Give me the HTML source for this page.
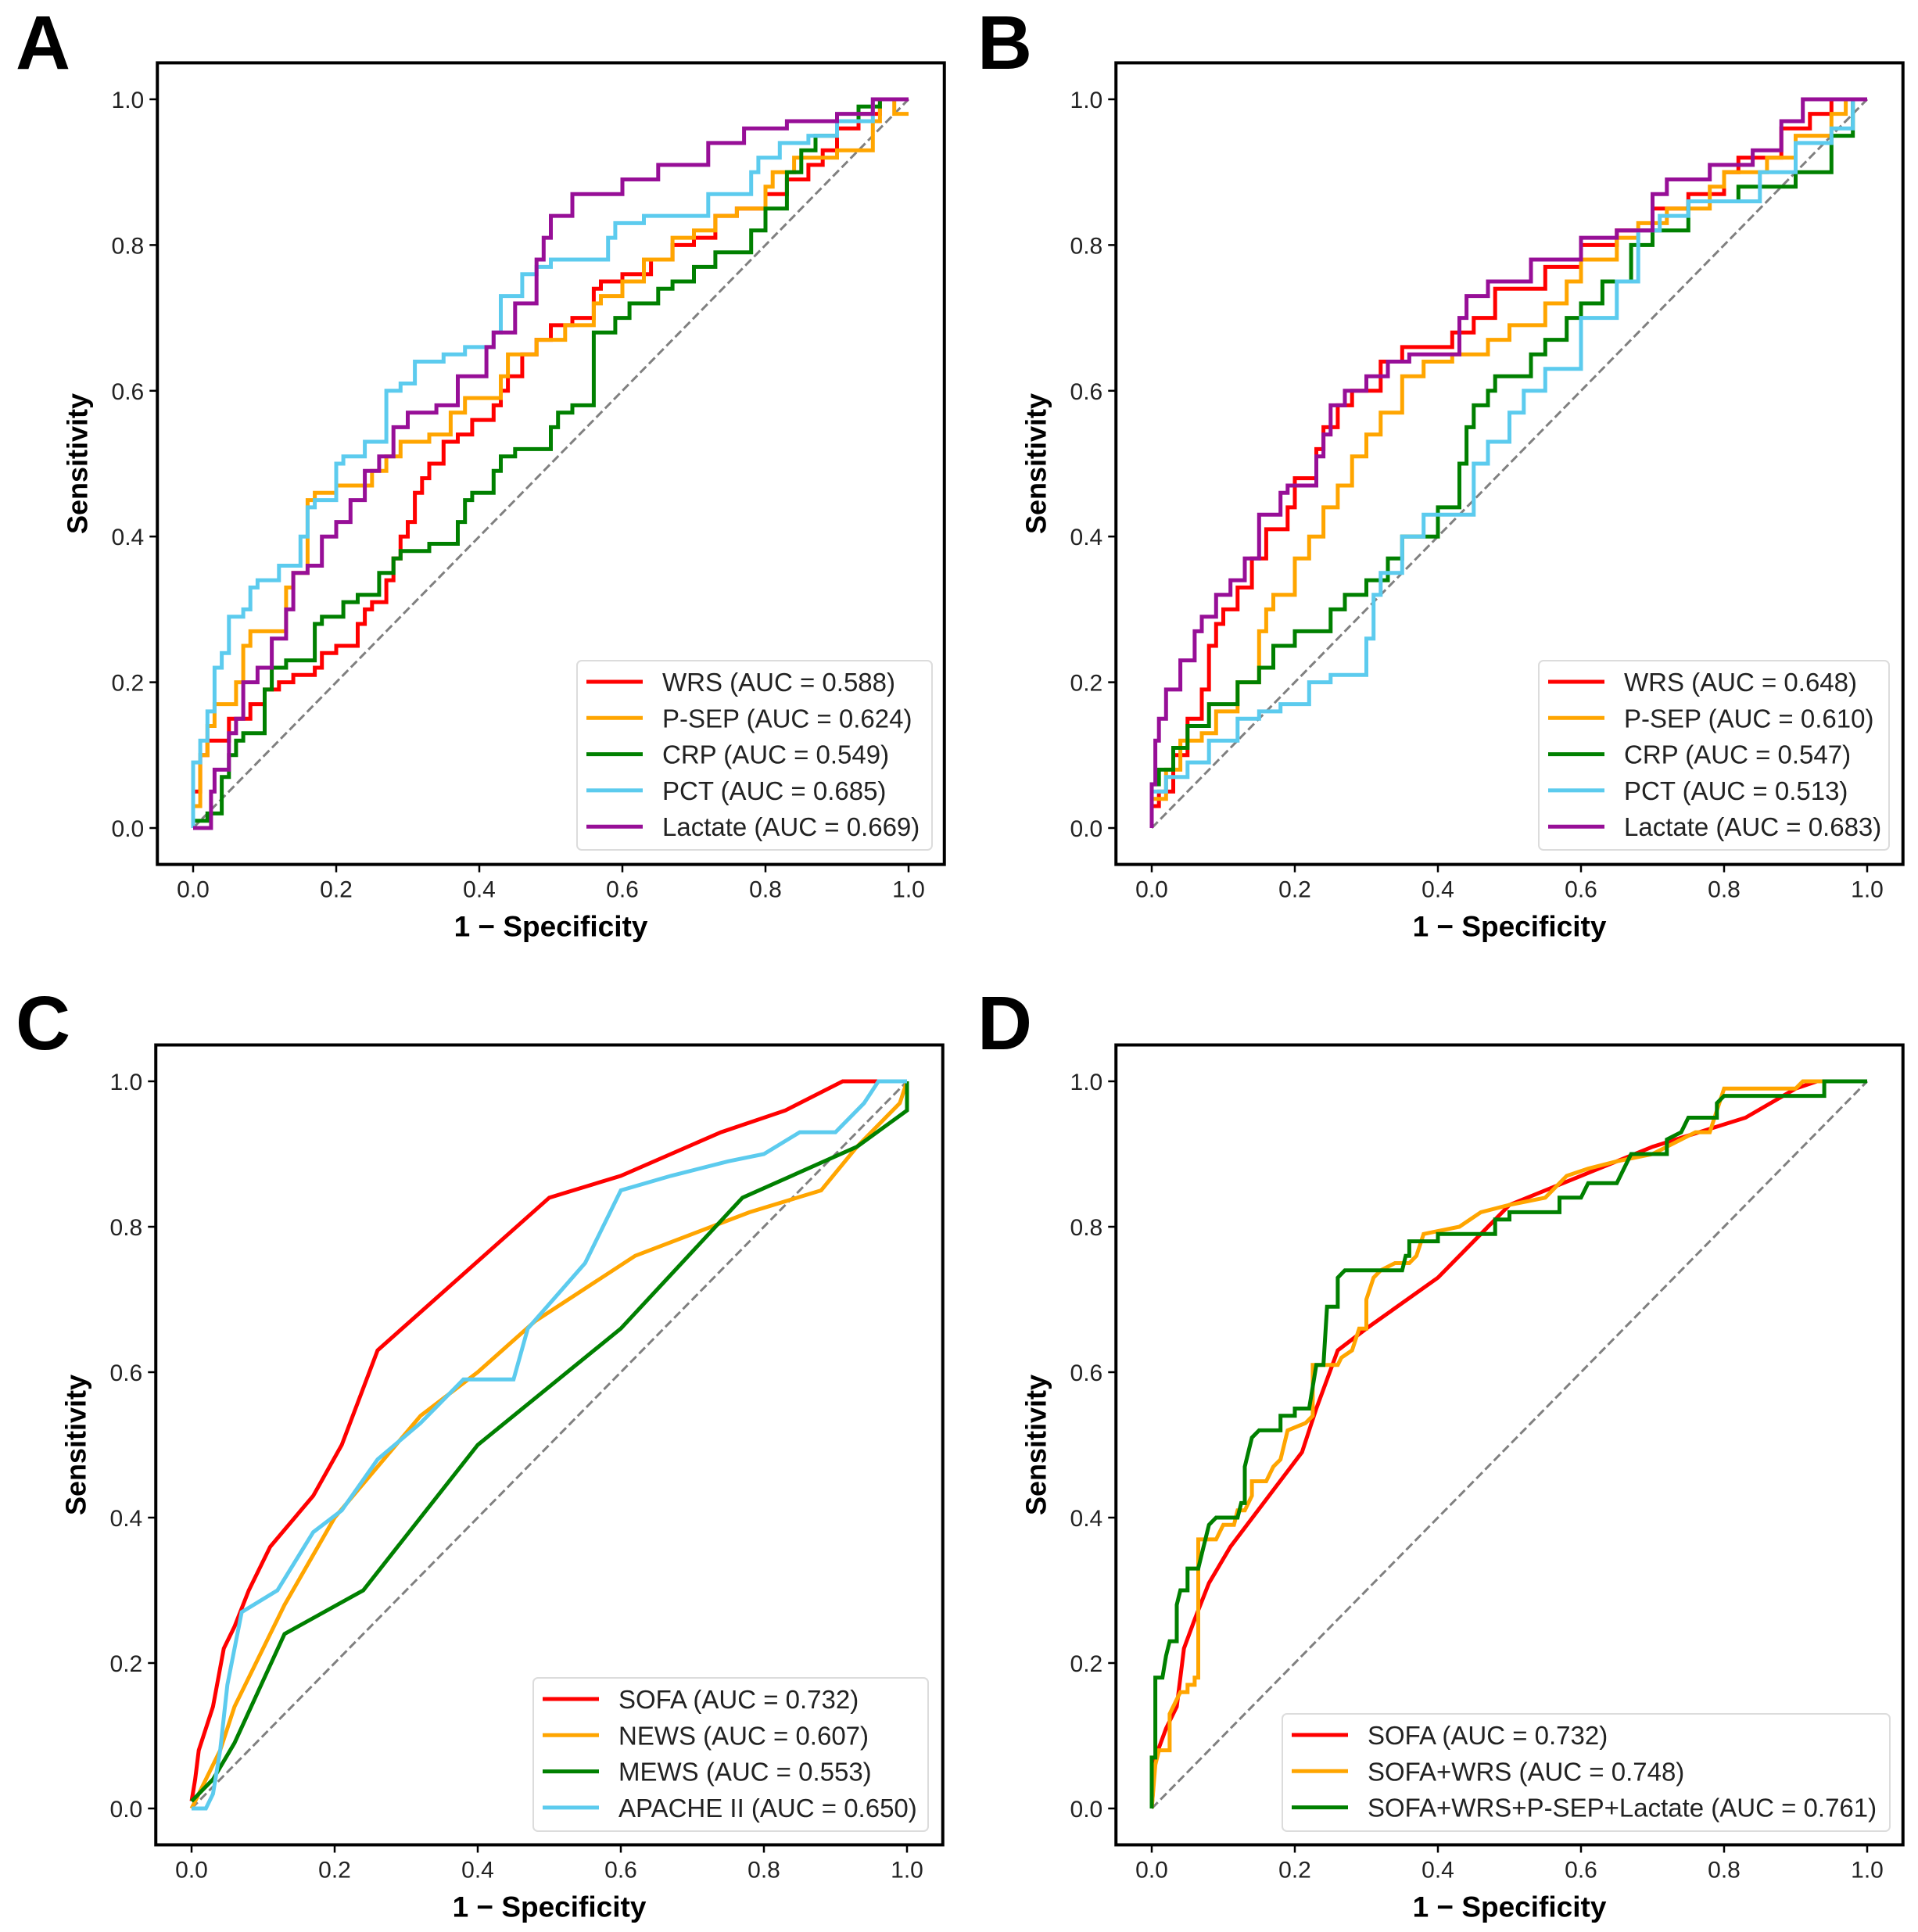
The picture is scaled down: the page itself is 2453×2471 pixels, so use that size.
<!DOCTYPE html>
<html><head><meta charset="utf-8">
<style>
html,body{margin:0;padding:0;background:#fff;}
svg{display:block;font-family:"Liberation Sans",Arial,sans-serif;}
</style></head>
<body>
<svg id="fig" width="2453" height="2471" viewBox="0 0 2453 2471" xmlns="http://www.w3.org/2000/svg"></svg>
<script>
// ---- data (fpr/tpr vertex arrays) ----
const ticks = [0.0, 0.2, 0.4, 0.6, 0.8, 1.0];
const tickLabels = ["0.0","0.2","0.4","0.6","0.8","1.0"];

const aNames = ["WRS (AUC = 0.588)","P-SEP (AUC = 0.624)","CRP (AUC = 0.549)","PCT (AUC = 0.685)","Lactate (AUC = 0.669)"];
const aWRS_x = [0,0.01,0.02,0.05,0.08,0.1,0.12,0.14,0.17,0.18,0.2,0.23,0.24,0.25,0.27,0.28,0.29,0.3,0.31,0.32,0.33,0.35,0.37,0.39,0.42,0.43,0.44,0.46,0.48,0.5,0.53,0.56,0.57,0.6,0.64,0.67,0.7,0.73,0.76,0.8,0.83,0.86,0.88,0.9,0.93,0.96,0.97,1];
const aWRS_y = [0,0.05,0.1,0.12,0.15,0.17,0.19,0.2,0.21,0.22,0.24,0.25,0.28,0.3,0.31,0.34,0.37,0.4,0.42,0.46,0.48,0.5,0.53,0.54,0.56,0.58,0.6,0.62,0.65,0.67,0.69,0.7,0.74,0.75,0.76,0.78,0.8,0.81,0.84,0.85,0.87,0.89,0.91,0.93,0.96,0.98,1,1];
const aPSEP_x = [0,0,0.01,0.02,0.03,0.04,0.06,0.07,0.08,0.1,0.13,0.14,0.16,0.17,0.2,0.25,0.27,0.29,0.33,0.36,0.38,0.43,0.44,0.48,0.52,0.56,0.57,0.6,0.63,0.67,0.7,0.73,0.76,0.8,0.81,0.84,0.9,0.95,0.96,0.98,1];
const aPSEP_y = [0,0.03,0.03,0.1,0.14,0.17,0.17,0.2,0.25,0.27,0.27,0.33,0.35,0.45,0.46,0.47,0.49,0.51,0.53,0.54,0.57,0.59,0.62,0.65,0.67,0.69,0.72,0.73,0.75,0.78,0.81,0.82,0.84,0.85,0.88,0.9,0.92,0.93,0.97,1,0.98];
const aCRP_x = [0,0.02,0.04,0.05,0.06,0.07,0.1,0.11,0.13,0.17,0.18,0.21,0.23,0.26,0.28,0.29,0.33,0.37,0.38,0.39,0.42,0.43,0.45,0.5,0.51,0.53,0.56,0.56,0.59,0.61,0.65,0.67,0.7,0.73,0.78,0.8,0.83,0.83,0.85,0.87,0.9,0.93,0.96,1];
const aCRP_y = [0,0.01,0.02,0.07,0.1,0.12,0.13,0.19,0.22,0.23,0.28,0.29,0.31,0.32,0.35,0.37,0.38,0.39,0.42,0.45,0.46,0.49,0.51,0.52,0.55,0.57,0.58,0.66,0.68,0.7,0.72,0.74,0.75,0.77,0.79,0.82,0.85,0.88,0.9,0.93,0.95,0.97,0.99,1];
const aPCT_x = [0,0.01,0.02,0.03,0.04,0.05,0.07,0.08,0.09,0.12,0.15,0.16,0.17,0.2,0.21,0.24,0.27,0.29,0.31,0.35,0.38,0.42,0.43,0.46,0.48,0.5,0.58,0.59,0.63,0.72,0.75,0.78,0.79,0.82,0.86,0.9,0.95,1];
const aPCT_y = [0,0.09,0.12,0.16,0.22,0.24,0.29,0.3,0.33,0.34,0.36,0.4,0.44,0.45,0.5,0.51,0.53,0.6,0.61,0.64,0.65,0.66,0.68,0.73,0.76,0.77,0.78,0.81,0.83,0.84,0.87,0.87,0.9,0.92,0.94,0.95,0.97,1];
const aLAC_x = [0,0.025,0.03,0.05,0.06,0.07,0.09,0.11,0.13,0.14,0.16,0.18,0.2,0.22,0.24,0.26,0.28,0.3,0.34,0.37,0.41,0.42,0.45,0.48,0.49,0.5,0.53,0.6,0.65,0.72,0.77,0.79,0.83,0.9,0.95,0.97,1];
const aLAC_y = [0,0,0.05,0.08,0.13,0.15,0.2,0.22,0.26,0.3,0.35,0.36,0.4,0.42,0.45,0.49,0.51,0.55,0.57,0.58,0.62,0.66,0.68,0.72,0.78,0.81,0.84,0.87,0.89,0.91,0.94,0.96,0.96,0.97,0.98,1,1];

const bNames = ["WRS (AUC = 0.648)","P-SEP (AUC = 0.610)","CRP (AUC = 0.547)","PCT (AUC = 0.513)","Lactate (AUC = 0.683)"];
const bWRS_x = [0,0.01,0.03,0.05,0.07,0.08,0.09,0.1,0.12,0.14,0.16,0.19,0.2,0.23,0.24,0.26,0.28,0.32,0.35,0.42,0.45,0.48,0.55,0.6,0.65,0.7,0.75,0.8,0.82,0.88,0.92,0.95,1];
const bWRS_y = [0,0.03,0.05,0.1,0.15,0.19,0.25,0.28,0.3,0.33,0.37,0.41,0.44,0.48,0.52,0.55,0.58,0.6,0.64,0.66,0.68,0.7,0.74,0.77,0.8,0.82,0.85,0.87,0.9,0.92,0.96,0.98,1];
const bPSEP_x = [0,0.02,0.04,0.07,0.09,0.12,0.15,0.16,0.17,0.2,0.22,0.24,0.26,0.28,0.3,0.32,0.35,0.38,0.42,0.47,0.5,0.55,0.58,0.6,0.65,0.68,0.72,0.78,0.8,0.86,0.9,0.95,0.97,1];
const bPSEP_y = [0,0.04,0.08,0.12,0.13,0.16,0.2,0.27,0.3,0.32,0.37,0.4,0.44,0.47,0.51,0.54,0.57,0.62,0.64,0.65,0.67,0.69,0.72,0.75,0.78,0.81,0.83,0.85,0.88,0.9,0.92,0.95,0.98,1];
const bCRP_x = [0,0.01,0.03,0.05,0.08,0.12,0.15,0.17,0.2,0.25,0.27,0.3,0.33,0.35,0.4,0.43,0.44,0.45,0.47,0.48,0.53,0.55,0.58,0.6,0.63,0.67,0.7,0.75,0.82,0.9,0.95,0.98,1];
const bCRP_y = [0,0.06,0.08,0.11,0.14,0.17,0.2,0.22,0.25,0.27,0.3,0.32,0.34,0.37,0.4,0.44,0.5,0.55,0.58,0.6,0.62,0.65,0.67,0.7,0.72,0.75,0.8,0.82,0.86,0.88,0.9,0.95,1];
const bPCT_x = [0,0.02,0.05,0.08,0.12,0.15,0.18,0.22,0.25,0.3,0.31,0.32,0.35,0.38,0.45,0.47,0.5,0.52,0.55,0.6,0.65,0.68,0.71,0.75,0.85,0.9,0.95,0.98,1];
const bPCT_y = [0,0.05,0.07,0.09,0.12,0.15,0.16,0.17,0.2,0.21,0.26,0.32,0.35,0.4,0.43,0.5,0.53,0.57,0.6,0.63,0.7,0.75,0.82,0.84,0.86,0.9,0.94,0.96,1];
const bLAC_x = [0,0.005,0.01,0.02,0.04,0.06,0.07,0.09,0.11,0.13,0.15,0.15,0.18,0.19,0.23,0.24,0.25,0.27,0.3,0.33,0.36,0.43,0.44,0.47,0.53,0.6,0.65,0.7,0.72,0.78,0.84,0.88,0.91,0.94,1];
const bLAC_y = [0,0.06,0.12,0.15,0.19,0.23,0.27,0.29,0.32,0.34,0.37,0.4,0.43,0.46,0.47,0.51,0.54,0.58,0.6,0.62,0.64,0.65,0.7,0.73,0.75,0.78,0.81,0.82,0.87,0.89,0.91,0.93,0.97,1,1];

const cNames = ["SOFA (AUC = 0.732)","NEWS (AUC = 0.607)","MEWS (AUC = 0.553)","APACHE II (AUC = 0.650)"];
const cSOFA_x = [0,0.005,0.01,0.03,0.045,0.06,0.08,0.11,0.17,0.21,0.26,0.5,0.6,0.74,0.83,0.91,1];
const cSOFA_y = [0.01,0.04,0.08,0.14,0.22,0.25,0.3,0.36,0.43,0.5,0.63,0.84,0.87,0.93,0.96,1,1];
const cNEWS_x = [0,0.04,0.06,0.13,0.2,0.32,0.4,0.48,0.62,0.78,0.88,0.93,0.97,0.99,1];
const cNEWS_y = [0,0.08,0.14,0.28,0.4,0.54,0.6,0.67,0.76,0.82,0.85,0.91,0.95,0.97,1];
const cMEWS_x = [0,0.03,0.06,0.13,0.24,0.4,0.6,0.77,0.93,1,1];
const cMEWS_y = [0.01,0.04,0.09,0.24,0.3,0.5,0.66,0.84,0.91,0.96,1];
const cAPA_x = [0,0.02,0.03,0.04,0.05,0.07,0.12,0.17,0.21,0.26,0.32,0.38,0.45,0.47,0.55,0.6,0.67,0.75,0.8,0.85,0.9,0.94,0.96,1];
const cAPA_y = [0,0,0.02,0.08,0.17,0.27,0.3,0.38,0.41,0.48,0.53,0.59,0.59,0.66,0.75,0.85,0.87,0.89,0.9,0.93,0.93,0.97,1,1];

const dNames = ["SOFA (AUC = 0.732)","SOFA+WRS (AUC = 0.748)","SOFA+WRS+P-SEP+Lactate (AUC = 0.761)"];
const dSOFA_x = [0,0.005,0.02,0.035,0.045,0.06,0.08,0.11,0.21,0.23,0.26,0.3,0.4,0.5,0.6,0.7,0.83,0.9,0.93,1];
const dSOFA_y = [0,0.07,0.11,0.14,0.22,0.26,0.31,0.36,0.49,0.55,0.63,0.66,0.73,0.83,0.87,0.91,0.95,0.99,1,1];
const dSW_x = [0,0.005,0.01,0.025,0.025,0.035,0.04,0.05,0.05,0.06,0.06,0.065,0.065,0.09,0.1,0.115,0.12,0.13,0.14,0.14,0.16,0.17,0.18,0.19,0.215,0.225,0.225,0.26,0.265,0.28,0.29,0.3,0.3,0.31,0.32,0.34,0.36,0.37,0.38,0.43,0.46,0.5,0.55,0.57,0.58,0.61,0.65,0.7,0.72,0.76,0.78,0.79,0.8,0.9,0.91,1];
const dSW_y = [0,0.06,0.08,0.08,0.13,0.15,0.16,0.16,0.17,0.17,0.18,0.18,0.37,0.37,0.39,0.39,0.41,0.41,0.43,0.45,0.45,0.47,0.48,0.52,0.53,0.54,0.61,0.61,0.62,0.63,0.66,0.66,0.7,0.73,0.74,0.75,0.75,0.76,0.79,0.8,0.82,0.83,0.84,0.86,0.87,0.88,0.89,0.9,0.91,0.93,0.93,0.96,0.99,0.99,1,1];
const dALL_x = [0,0,0.005,0.005,0.015,0.02,0.025,0.035,0.035,0.04,0.05,0.05,0.065,0.07,0.075,0.08,0.09,0.12,0.125,0.13,0.13,0.14,0.15,0.18,0.18,0.2,0.2,0.22,0.23,0.24,0.245,0.26,0.26,0.27,0.35,0.355,0.36,0.36,0.4,0.4,0.48,0.48,0.5,0.5,0.57,0.57,0.6,0.61,0.65,0.66,0.67,0.72,0.72,0.74,0.75,0.79,0.79,0.8,0.94,0.94,1];
const dALL_y = [0,0.07,0.07,0.18,0.18,0.21,0.23,0.23,0.28,0.3,0.3,0.33,0.33,0.35,0.37,0.39,0.4,0.4,0.42,0.42,0.47,0.51,0.52,0.52,0.54,0.54,0.55,0.55,0.61,0.61,0.69,0.69,0.73,0.74,0.74,0.76,0.76,0.78,0.78,0.79,0.79,0.81,0.81,0.82,0.82,0.84,0.84,0.86,0.86,0.88,0.9,0.9,0.92,0.93,0.95,0.95,0.97,0.98,0.98,1,1];

const RED="#ff0000", ORANGE="#ffa500", GREEN="#008000", SKY="#5ccbee", PURPLE="#970f97";
const NS="http://www.w3.org/2000/svg";
const fig=document.getElementById('fig');
function mk(tag,attrs,parent){const e=document.createElementNS(NS,tag);for(const k in attrs)e.setAttribute(k,attrs[k]);(parent||fig).appendChild(e);return e;}

function panel(p){
  const g=mk('g',{});
  
  
  const X=v=>p.x0+v*(p.x1-p.x0);
  const Y=v=>p.y0+v*(p.y1-p.y0);
  const bl=X(-0.05), br=X(1.05), bt=Y(1.05), bb=Y(-0.05);
  const lt=mk('text',{x:p.lx,y:p.ly,'font-size':97,'font-weight':'bold',fill:'#000'},g);
  lt.textContent=p.letter;
  
  
  const dg=mk('line',{x1:X(0),y1:Y(0),x2:X(1),y2:Y(1),stroke:'#808080','stroke-width':3,'stroke-dasharray':'11,5'},g);
  
  
  p.series.forEach(s=>{
    const arr=[];
    s.xs.forEach((v,i)=>{
      if(p.step && i>0){ arr.push(X(s.xs[i-1]).toFixed(1)+','+Y(s.ys[i]).toFixed(1)); }
      arr.push(X(v).toFixed(1)+','+Y(s.ys[i]).toFixed(1));
    });
    const pl=mk('polyline',{points:arr.join(' '),fill:'none',stroke:s.color,'stroke-width':5,'stroke-linejoin':'miter'},g);
    
    
  });
  const fr=mk('rect',{x:bl,y:bt,width:br-bl,height:bb-bt,fill:'none',stroke:'#000','stroke-width':4},g);
  
  
  ticks.forEach((t,i)=>{
    mk('line',{x1:X(t),y1:bb,x2:X(t),y2:bb+10,stroke:'#000','stroke-width':2.5},g);
    const tx=mk('text',{x:X(t),y:bb+42,'font-size':30,'text-anchor':'middle',fill:'#222'},g);
    tx.textContent=tickLabels[i];
    
    
    mk('line',{x1:bl,y1:Y(t),x2:bl-10,y2:Y(t),stroke:'#000','stroke-width':2.5},g);
    const ty=mk('text',{x:bl-17,y:Y(t)+11,'font-size':30,'text-anchor':'end',fill:'#222'},g);
    ty.textContent=tickLabels[i];
    
    
  });
  const xl=mk('text',{x:(X(0)+X(1))/2,y:bb+92,'font-size':37,'font-weight':'bold','text-anchor':'middle',fill:'#000'},g);
  xl.textContent='1 \u2212 Specificity';
  
  
  const cy=(Y(0)+Y(1))/2, cx=bl-90;
  const yl=mk('text',{x:cx,y:cy,'font-size':36,'font-weight':'bold','text-anchor':'middle',fill:'#000',transform:`rotate(-90 ${cx} ${cy})`},g);
  yl.textContent='Sensitivity';
  
  
  const L=p.legend;
  const lg=mk('g',{},g);
  
  
  mk('rect',{x:L.x,y:L.y,width:L.w,height:L.h,rx:6,fill:'#fff','fill-opacity':0.85,stroke:'#dcdcdc','stroke-width':2},lg);
  p.series.forEach((s,i)=>{
    const yy=L.y+27+i*46.3;
    const en=mk('g',{},lg);
    
    
    mk('line',{x1:L.x+12,y1:yy,x2:L.x+84,y2:yy,stroke:s.color,'stroke-width':5},en);
    const t=mk('text',{x:L.x+109,y:yy+12,'font-size':33,fill:'#222'},en);
    t.textContent=s.name;
  });
}

panel({letter:'A',lx:20,ly:88,x0:247,x1:1162,y0:1059,y1:127,step:true,
  legend:{x:738,y:845,w:454,h:242},
  series:[
    {key:'wrs',name:aNames[0],color:RED,xs:aWRS_x,ys:aWRS_y},
    {key:'psep',name:aNames[1],color:ORANGE,xs:aPSEP_x,ys:aPSEP_y},
    {key:'crp',name:aNames[2],color:GREEN,xs:aCRP_x,ys:aCRP_y},
    {key:'pct',name:aNames[3],color:SKY,xs:aPCT_x,ys:aPCT_y},
    {key:'lactate',name:aNames[4],color:PURPLE,xs:aLAC_x,ys:aLAC_y}]});
panel({letter:'B',lx:1250,ly:88,x0:1473,x1:2388,y0:1059,y1:127,step:true,
  legend:{x:1968,y:845,w:448,h:242},
  series:[
    {key:'wrs',name:bNames[0],color:RED,xs:bWRS_x,ys:bWRS_y},
    {key:'psep',name:bNames[1],color:ORANGE,xs:bPSEP_x,ys:bPSEP_y},
    {key:'crp',name:bNames[2],color:GREEN,xs:bCRP_x,ys:bCRP_y},
    {key:'pct',name:bNames[3],color:SKY,xs:bPCT_x,ys:bPCT_y},
    {key:'lactate',name:bNames[4],color:PURPLE,xs:bLAC_x,ys:bLAC_y}]});
panel({letter:'C',lx:20,ly:1342,x0:245,x1:1160,y0:2313,y1:1383,step:false,
  legend:{x:682,y:2146,w:505,h:196},
  series:[
    {key:'sofa',name:cNames[0],color:RED,xs:cSOFA_x,ys:cSOFA_y},
    {key:'news',name:cNames[1],color:ORANGE,xs:cNEWS_x,ys:cNEWS_y},
    {key:'mews',name:cNames[2],color:GREEN,xs:cMEWS_x,ys:cMEWS_y},
    {key:'apache',name:cNames[3],color:SKY,xs:cAPA_x,ys:cAPA_y}]});
panel({letter:'D',lx:1250,ly:1342,x0:1473,x1:2388,y0:2313,y1:1383,step:false,
  legend:{x:1640,y:2192,w:777,h:150},
  series:[
    {key:'sofa',name:dNames[0],color:RED,xs:dSOFA_x,ys:dSOFA_y},
    {key:'sofa-wrs',name:dNames[1],color:ORANGE,xs:dSW_x,ys:dSW_y},
    {key:'combined',name:dNames[2],color:GREEN,xs:dALL_x,ys:dALL_y}]});
</script>
</body></html>
